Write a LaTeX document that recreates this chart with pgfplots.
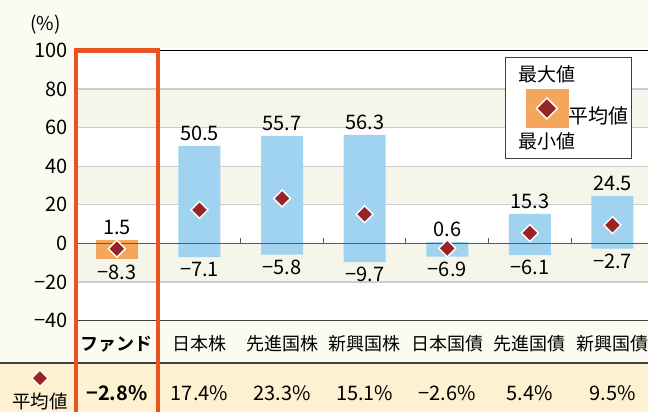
\documentclass[border=0pt]{standalone}
\usepackage{pgfplots}
\pgfplotsset{compat=1.18}
\usepackage{pgfplotstable}
\usepackage{fontspec}
\setmainfont{Noto Sans CJK JP}[BoldFont={Noto Sans CJK JP Bold}]
\definecolor{pagebg}{RGB}{252,251,241}
\definecolor{band}{RGB}{245,245,234}
\definecolor{meanbg}{RGB}{254,241,210}
\definecolor{barblue}{RGB}{160,211,240}
\definecolor{barorange}{RGB}{243,166,92}
\definecolor{dmd}{RGB}{151,37,40}
\definecolor{fundframe}{RGB}{234,82,32}
\definecolor{gridgray}{RGB}{204,204,204}
\definecolor{zerol}{RGB}{90,90,90}
\newcommand{\fs}[1]{\fontsize{#1pt}{#1pt}\selectfont}

\pgfplotstableread{
x max min mean maxl minl
0 1.5 -8.3 -2.8 1.5 −8.3
}\fundtab
\pgfplotstableread{
x max min mean maxl minl
1 50.5 -7.1 17.4 50.5 −7.1
2 55.7 -5.8 23.3 55.7 −5.8
3 56.3 -9.7 15.1 56.3 −9.7
4 0.6 -6.9 -2.6 0.6 −6.9
5 15.3 -6.1 5.4 15.3 −6.1
6 24.5 -2.7 9.5 24.5 −2.7
}\assettab

\begin{document}
\begin{tikzpicture}
\begin{axis}[
  set layers,
  scale only axis, width=572.5pt, height=270pt,
  xmin=-0.5, xmax=6.43, ymin=-40, ymax=100,
  clip=false,
  axis line style={draw=none},
  major tick length=0pt,
  xtick={0,...,6},
  xticklabels={\textbf{ファンド},日本株,先進国株,新興国株,日本国債,先進国債,新興国債},
  xticklabel style={font=\fs{18}, anchor=base, yshift=-30pt},
  ytick={-40,-20,...,100},
  yticklabels={−40,−20,0,20,40,60,80,100},
  yticklabel style={font=\fs{20}, xshift=-4pt},
  ymajorgrids, grid style={gridgray, line width=1.3pt},
  legend style={at={(axis cs:4.70,96.6)}, anchor=north west, draw=black!75,
    line width=0.8pt, fill=white, font=\fs{20}, inner xsep=1pt, inner ysep=8pt,
    column sep=-9pt},
]
\begin{pgfonlayer}{axis background}
\fill[pagebg] (axis cs:-1.415,126.2) rectangle (axis cs:6.43,-87.5);
\fill[white] (axis cs:-0.5,100) rectangle (axis cs:6.43,-40);
\fill[band] (axis cs:-0.5,80) rectangle (axis cs:6.43,60);
\fill[band] (axis cs:-0.5,40) rectangle (axis cs:6.43,20);
\fill[band] (axis cs:-0.5,0) rectangle (axis cs:6.43,-20);
\fill[meanbg] (axis cs:-1.415,-62.1) rectangle (axis cs:6.43,-87.5);
\end{pgfonlayer}
\coordinate (BL) at (axis cs:-1.415,-87.5);
\coordinate (TR) at (axis cs:6.43,126.2);

% floating bars (min to max): positive part 0..max and negative part min..0
\addplot[forget plot, ybar, bar width=42pt, bar shift=0pt, fill=barblue, draw=none]
  table[x=x, y=max] {\assettab};
\addplot[forget plot, ybar, bar width=42pt, bar shift=0pt, fill=barblue, draw=none]
  table[x=x, y=min] {\assettab};
\addplot[forget plot, ybar, bar width=42pt, bar shift=0pt, fill=barorange, draw=none]
  table[x=x, y=max] {\fundtab};
\addplot[forget plot, ybar, bar width=42pt, bar shift=0pt, fill=barorange, draw=none]
  table[x=x, y=min] {\fundtab};

% zero line and small ticks
\draw[zerol, line width=1.5pt] (axis cs:-0.5,0) -- (axis cs:6.43,0);
\pgfplotsinvokeforeach{0.5,1.5,2.5,3.5,4.5,5.5}{
  \draw[zerol, line width=1pt] (axis cs:#1,0) -- ++(0pt,5pt);
}
\draw[black, line width=1.3pt] (axis cs:-0.5,100) -- (axis cs:6.43,100);
\draw[black!75, line width=1.3pt] (axis cs:-0.5,-40) -- (axis cs:6.43,-40);
\draw[black!75, line width=1.3pt] (axis cs:-1.415,-62.1) -- (axis cs:6.43,-62.1);

% mean diamonds
\addplot[forget plot, only marks, mark=square*, mark size=6pt,
  mark options={rotate=45, fill=dmd, draw=white, line width=1.4pt}]
  table[x=x, y=mean] {\assettab};
\addplot[forget plot, only marks, mark=square*, mark size=6pt,
  mark options={rotate=45, fill=dmd, draw=white, line width=1.4pt}]
  table[x=x, y=mean] {\fundtab};

% value labels
\addplot[forget plot, only marks, mark=none, draw=none, nodes near coords,
  point meta=explicit symbolic,
  nodes near coords style={anchor=south, font=\fs{20}, inner sep=0pt, yshift=5pt}]
  table[x=x, y=max, meta=maxl] {\assettab};
\addplot[forget plot, only marks, mark=none, draw=none, nodes near coords,
  point meta=explicit symbolic,
  nodes near coords style={anchor=north, font=\fs{20}, inner sep=0pt, yshift=-5pt}]
  table[x=x, y=min, meta=minl] {\assettab};
\addplot[forget plot, only marks, mark=none, draw=none, nodes near coords,
  point meta=explicit symbolic,
  nodes near coords style={anchor=south, font=\fs{20}, inner sep=0pt, yshift=5pt}]
  table[x=x, y=max, meta=maxl] {\fundtab};
\addplot[forget plot, only marks, mark=none, draw=none, nodes near coords,
  point meta=explicit symbolic,
  nodes near coords style={anchor=north, font=\fs{20}, inner sep=0pt, yshift=-5pt}]
  table[x=x, y=min, meta=minl] {\fundtab};

% legend
\addlegendimage{legend image code/.code={
  \path (-12pt,0pt);
  \fill[barorange] (7pt,-12pt) rectangle (49pt,26pt);
  \path[fill=dmd, draw=white, line width=1.5pt] (28pt,17.5pt) -- (38.5pt,7pt) -- (28pt,-3.5pt) -- (17.5pt,7pt) -- cycle;
  \node[inner sep=0pt, anchor=base, font=\fs{19}] at (28pt,34pt) {最大値};
  \node[inner sep=0pt, anchor=base, font=\fs{19}] at (28pt,-33pt) {最小値};
}}
\addlegendentry{平均値}

% header texts
\node[font=\fs{19}] at (axis cs:-0.865,113.7) {(\%)};

% mean row
\path[fill=dmd, draw=white, line width=1.2pt] (axis cs:-0.931,-69.9) ++(0pt,8pt) -- ++(8pt,-8pt) -- ++(-8pt,-8pt) -- ++(-8pt,8pt) -- cycle;
\node[anchor=base, font=\fs{18.5}] at (axis cs:-0.931,-85.9) {平均値};
\node[anchor=base, font=\fs{20}] at (axis cs:0,-81.3) {\textbf{−2.8\%}};
\node[anchor=base, font=\fs{20}] at (axis cs:1,-81.3) {17.4\%};
\node[anchor=base, font=\fs{20}] at (axis cs:2,-81.3) {23.3\%};
\node[anchor=base, font=\fs{20}] at (axis cs:3,-81.3) {15.1\%};
\node[anchor=base, font=\fs{20}] at (axis cs:4,-81.3) {−2.6\%};
\node[anchor=base, font=\fs{20}] at (axis cs:5,-81.3) {5.4\%};
\node[anchor=base, font=\fs{20}] at (axis cs:6,-81.3) {9.5\%};

% fund frame
\draw[fundframe, line width=4.5pt, line join=miter]
  (axis cs:-0.497,-87.5) -- (axis cs:-0.497,100) -- (axis cs:0.497,100) -- (axis cs:0.497,-87.5);
\end{axis}
\pgfresetboundingbox
\path[use as bounding box] (BL) rectangle (TR);
\end{tikzpicture}
\end{document}
